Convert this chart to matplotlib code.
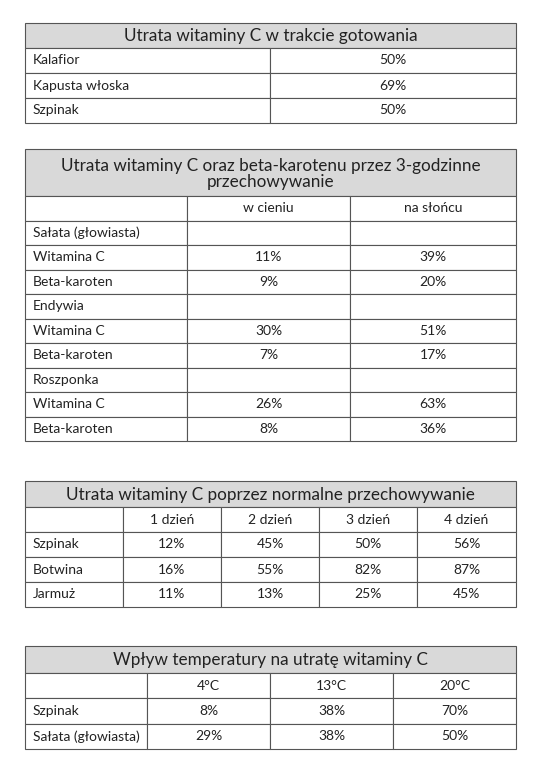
import matplotlib
matplotlib.use("Agg")
import matplotlib.pyplot as plt
from matplotlib.patches import Rectangle

plt.rcParams['font.family'] = ['Lato', 'DejaVu Sans']

# ---- data ----
t1_title = "Utrata witaminy C w trakcie gotowania"
t1_labels = ["Kalafior", "Kapusta włoska", "Szpinak"]
t1_values = ["50%", "69%", "50%"]

t2_title = "Utrata witaminy C oraz beta-karotenu przez 3-godzinne\nprzechowywanie"
t2_cols = ["", "w cieniu", "na słońcu"]
t2_rows = ["Sałata (głowiasta)", "Witamina C", "Beta-karoten", "Endywia", "Witamina C",
           "Beta-karoten", "Roszponka", "Witamina C", "Beta-karoten"]
t2_shade = ["", "11%", "9%", "", "30%", "7%", "", "26%", "8%"]
t2_sun = ["", "39%", "20%", "", "51%", "17%", "", "63%", "36%"]

t3_title = "Utrata witaminy C poprzez normalne przechowywanie"
t3_cols = ["", "1 dzień", "2 dzień", "3 dzień", "4 dzień"]
t3_rows = ["Szpinak", "Botwina", "Jarmuż"]
t3_vals = [["12%", "45%", "50%", "56%"],
           ["16%", "55%", "82%", "87%"],
           ["11%", "13%", "25%", "45%"]]

t4_title = "Wpływ temperatury na utratę witaminy C"
t4_cols = ["", "4°C", "13°C", "20°C"]
t4_rows = ["Szpinak", "Sałata (głowiasta)"]
t4_vals = [["8%", "38%", "70%"], ["29%", "38%", "50%"]]

fig = plt.figure(figsize=(5.41, 7.74), dpi=100)
ax = fig.add_axes([0, 0, 1, 1])
ax.set_xlim(0, 541); ax.set_ylim(774, 0); ax.axis('off')

LC = '#555555'; TC = '#222222'; HC = '#d9d9d9'

def table(top, head_h, row_h, xs, title, rows):
    x0, x1 = xs[0], xs[-1]
    ax.add_patch(Rectangle((x0, top), x1 - x0, head_h, facecolor=HC, edgecolor=LC, lw=0.8))
    ax.text((x0 + x1) / 2, top + head_h / 2 + 1, title, ha='center', va='center',
            fontsize=12.3, color=TC, linespacing=1.0)
    y = top + head_h
    for r in rows:
        for i in range(len(xs) - 1):
            ax.add_patch(Rectangle((xs[i], y), xs[i+1] - xs[i], row_h, facecolor='white',
                                   edgecolor=LC, lw=0.8))
            txt = r[i] if i < len(r) else ""
            if i == 0:
                ax.text(xs[0] + 8, y + row_h / 2, txt, ha='left', va='center', fontsize=10, color=TC)
            else:
                ax.text((xs[i] + xs[i+1]) / 2, y + row_h / 2, txt, ha='center', va='center',
                        fontsize=10, color=TC)
        y += row_h

table(23, 25, 25, [25, 270, 516], t1_title, [[l, v] for l, v in zip(t1_labels, t1_values)])
table(149, 47, 24.5, [25, 187, 350, 516], t2_title,
      [t2_cols] + [[a, b, c] for a, b, c in zip(t2_rows, t2_shade, t2_sun)])
table(481, 26, 25, [25, 123, 221, 319, 417, 516], t3_title,
      [t3_cols] + [[n] + v for n, v in zip(t3_rows, t3_vals)])
table(646, 27, 25.3, [25, 147, 270, 393, 516], t4_title,
      [t4_cols] + [[n] + v for n, v in zip(t4_rows, t4_vals)])

fig.savefig("out.png", dpi=100)
